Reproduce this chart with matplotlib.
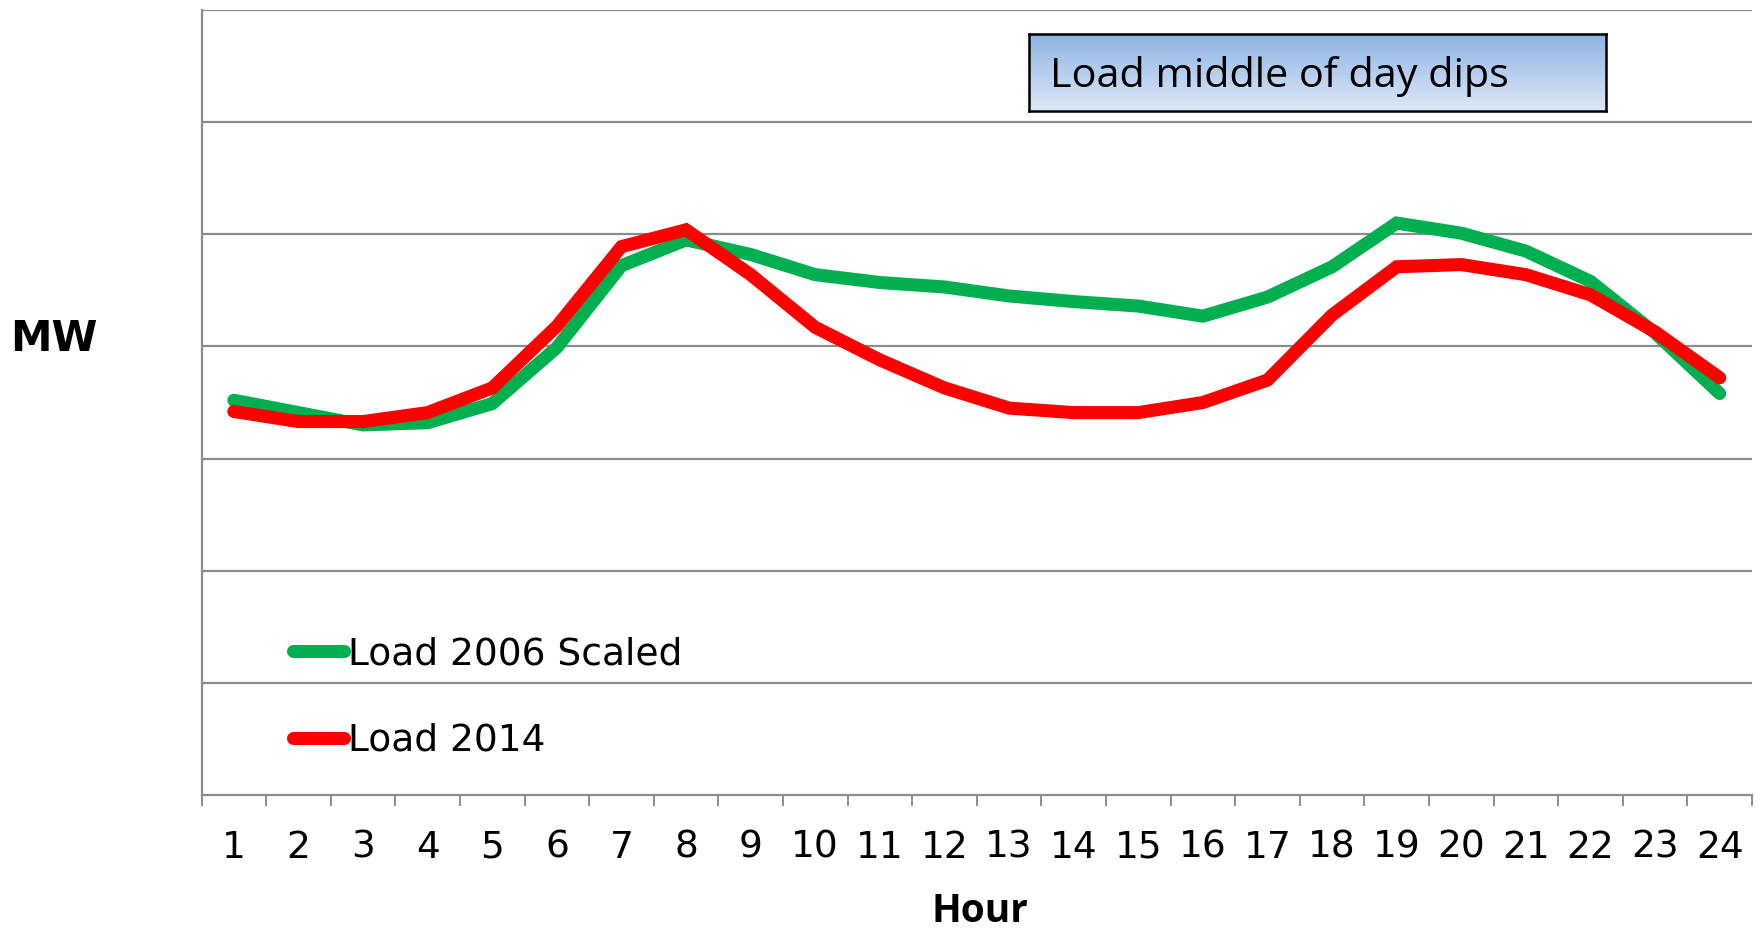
import matplotlib
matplotlib.use('Agg')
import matplotlib.pyplot as plt
import numpy as np

# Daten (Einheit = Gitterlinien)
hours = list(range(1, 25))
hour_labels = [str(h) for h in hours]
load_2006_scaled = [3.52, 3.41, 3.30, 3.32, 3.49, 3.99, 4.72, 4.95, 4.82, 4.64,
                    4.57, 4.53, 4.45, 4.40, 4.36, 4.27, 4.44, 4.71, 5.10, 5.01,
                    4.85, 4.58, 4.12, 3.58]
load_2014 = [3.42, 3.33, 3.33, 3.41, 3.63, 4.18, 4.89, 5.04, 4.64, 4.17,
             3.88, 3.63, 3.45, 3.41, 3.41, 3.50, 3.70, 4.28, 4.71, 4.73,
             4.64, 4.46, 4.13, 3.72]

W, H = 1755, 932
fig = plt.figure(figsize=(W / 100, H / 100), dpi=100)
ax = fig.add_axes([201.5 / W, (H - 795) / H, (1752 - 201.5) / W, (795 - 10) / H])

grey = '#8c8c8c'
ax.plot(hours, load_2006_scaled, color='#00b050', lw=9.4, solid_capstyle='round',
        solid_joinstyle='miter', label='Load 2006 Scaled', zorder=3)
ax.plot(hours, load_2014, color='#ff0000', lw=9.4, solid_capstyle='round',
        solid_joinstyle='miter', label='Load 2014', zorder=4)

ax.set_xlim(0.5, 24.5)
ax.set_ylim(0, 7)
ax.set_yticks(range(1, 8))
ax.set_yticklabels([])
ax.tick_params(axis='y', length=0)
ax.grid(axis='y', color=grey, lw=1.6)
ax.set_axisbelow(True)

# Striche zwischen den Stunden, Beschriftung in der Mitte
ax.set_xticks(np.arange(0.5, 25, 1))
ax.set_xticklabels([])
ax.tick_params(axis='x', which='major', length=8, width=1.4, color=grey)
ax.set_xticks(hours, minor=True)
ax.set_xticklabels(hour_labels, minor=True, fontsize=27)
ax.tick_params(axis='x', which='minor', length=0, pad=25)

for side in ['top', 'right']:
    ax.spines[side].set_visible(False)
for side in ['left', 'bottom']:
    ax.spines[side].set_color(grey)
    ax.spines[side].set_linewidth(1.6)

fig.text(54 / W, 1 - 339 / H, 'MW', fontsize=30, fontweight='bold',
         ha='center', va='center', family='DejaVu Sans')
fig.text(980 / W, 1 - 912 / H, 'Hour', fontsize=28, fontweight='bold',
         ha='center', va='center', family='Open Sans')

ax.legend(loc='center left', bbox_to_anchor=(293 / W, 1 - 697.5 / H),
          bbox_transform=fig.transFigure, frameon=False, fontsize=27,
          handlelength=1.35, handletextpad=0.12, labelspacing=1.35,
          borderpad=0, borderaxespad=0)

# Textkasten mit Farbverlauf
bx = fig.add_axes([1029 / W, 1 - 111 / H, (1606 - 1029) / W, (111 - 34) / H])
grad = np.linspace(0, 1, 100).reshape(-1, 1)
top = np.array([141, 180, 227]) / 255
bot = np.array([221, 232, 247]) / 255
img = top + (bot - top) * grad[:, :, None]
bx.imshow(img, aspect='auto', extent=[0, 1, 0, 1])
bx.set_xticks([])
bx.set_yticks([])
for s in bx.spines.values():
    s.set_linewidth(1.8)
    s.set_color('black')
bx.text(0.036, 0.45, 'Load middle of day dips', fontsize=29.8, family='Open Sans',
        ha='left', va='center', transform=bx.transAxes)

fig.savefig('out.png', dpi=100)
